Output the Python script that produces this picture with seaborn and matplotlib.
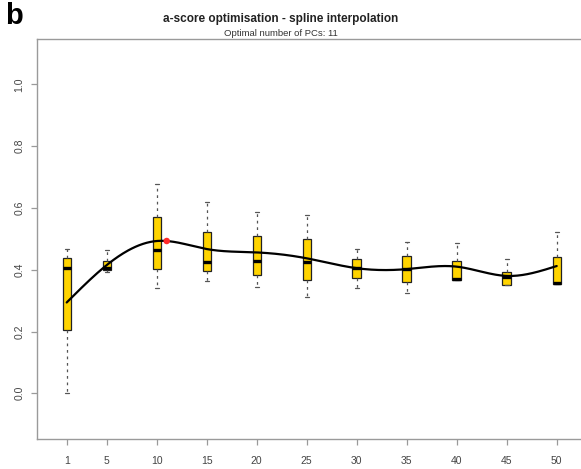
import numpy as np
import pandas as pd
import matplotlib
matplotlib.use("Agg")
import matplotlib.pyplot as plt
import seaborn as sns

# Number of principal components evaluated
pcs = [1, 5, 10, 15, 20, 25, 30, 35, 40, 45, 50]

# Five-number summaries of the a-score at each number of PCs
whisker_low = [0.000, 0.394, 0.342, 0.363, 0.345, 0.313, 0.340, 0.324, 0.366, 0.350, 0.353]
q1          = [0.205, 0.398, 0.402, 0.396, 0.383, 0.367, 0.372, 0.361, 0.367, 0.352, 0.354]
median      = [0.406, 0.405, 0.464, 0.426, 0.428, 0.424, 0.407, 0.402, 0.370, 0.376, 0.356]
q3          = [0.439, 0.429, 0.571, 0.521, 0.509, 0.498, 0.435, 0.444, 0.428, 0.394, 0.440]
whisker_high = [0.468, 0.464, 0.677, 0.620, 0.588, 0.577, 0.467, 0.491, 0.485, 0.434, 0.523]

# Spline knots (mean a-score at each number of PCs)
knot_score = [0.294, 0.415, 0.493, 0.467, 0.456, 0.437, 0.405, 0.402, 0.410, 0.380, 0.412]

optimal_pcs = 11

title = "a-score optimisation - spline interpolation"
subtitle = f"Optimal number of PCs: {optimal_pcs}"
panel_letter = "b"


def natural_cubic_spline(xk, yk, xs):
    """Evaluate a natural cubic spline through (xk, yk) at xs."""
    xk = np.asarray(xk, float)
    yk = np.asarray(yk, float)
    n = len(xk)
    h = np.diff(xk)
    A = np.zeros((n, n))
    b = np.zeros(n)
    A[0, 0] = A[-1, -1] = 1.0
    for i in range(1, n - 1):
        A[i, i - 1] = h[i - 1]
        A[i, i] = 2 * (h[i - 1] + h[i])
        A[i, i + 1] = h[i]
        b[i] = 3 * ((yk[i + 1] - yk[i]) / h[i] - (yk[i] - yk[i - 1]) / h[i - 1])
    c = np.linalg.solve(A, b)
    bcoef = (np.diff(yk) / h) - h * (2 * c[:-1] + c[1:]) / 3
    d = np.diff(c) / (3 * h)
    xs = np.asarray(xs, float)
    idx = np.clip(np.searchsorted(xk, xs) - 1, 0, n - 2)
    dx = xs - xk[idx]
    return yk[idx] + bcoef[idx] * dx + c[idx] * dx ** 2 + d[idx] * dx ** 3


# Long-form table: one row per summary value, so the box statistics reproduce them
rows = []
for i, p in enumerate(pcs):
    for v in (whisker_low[i], q1[i], median[i], q3[i], whisker_high[i]):
        rows.append({"pcs": p, "score": v})
df = pd.DataFrame(rows)

sns.set_style("white")
plt.rcParams["font.family"] = ["Liberation Sans", "DejaVu Sans"]

fig = plt.figure(figsize=(5.81, 4.69), dpi=100)
ax = fig.add_axes([36.7 / 581, 30 / 469, 560 / 581, 400 / 469])

frame_col = "#9a9a9a"
text_col = "#444444"

sns.boxplot(
    data=df, x="pcs", y="score", native_scale=True, ax=ax,
    whis=np.inf, width=0.21, saturation=1, color="#FFD400",
    linewidth=0.9, linecolor="black",
    boxprops=dict(facecolor="#FFD400", edgecolor="#222222"),
    medianprops=dict(color="black", linewidth=2.4),
    whiskerprops=dict(color="#555555", linestyle=(0, (2.2, 3.0)), linewidth=0.9),
    capprops=dict(color="#555555", linewidth=0.9),
)

xs = np.linspace(pcs[0], pcs[-1], 400)
ax.plot(xs, natural_cubic_spline(pcs, knot_score, xs), color="black", lw=1.6, zorder=5)
ax.scatter([optimal_pcs], natural_cubic_spline(pcs, knot_score, [optimal_pcs]),
           s=22, color="#ff2a2a", edgecolor="none", zorder=6)

ax.set_xlim(-2, 54)
ax.set_ylim(-0.148, 1.147)
ax.set_xticks(pcs)
ax.set_xticklabels([str(p) for p in pcs])
ax.set_yticks([0.0, 0.2, 0.4, 0.6, 0.8, 1.0])
ax.set_yticklabels(["0.0", "0.2", "0.4", "0.6", "0.8", "1.0"])
ax.set_xlabel("")
ax.set_ylabel("")

for s in ax.spines.values():
    s.set_color(frame_col)
    s.set_linewidth(1.0)

ax.tick_params(axis="x", direction="out", length=4.5, width=0.9, color=frame_col,
               labelsize=7.5, labelcolor=text_col, pad=8, bottom=True)
ax.tick_params(axis="y", direction="out", length=4.5, width=0.9, color=frame_col,
               labelsize=7.5, labelcolor=text_col, pad=4.5, left=True, labelrotation=90)
for lab in ax.get_yticklabels():
    lab.set_va("center")

fig.text(281 / 581, 1 - 19 / 469, title, ha="center", va="center",
         fontsize=8.5, fontweight="bold", color="#222222")
fig.text(281 / 581, 1 - 33.5 / 469, subtitle, ha="center", va="center",
         fontsize=6.8, color="#333333")
fig.text(5 / 581, 1 - 2 / 469, panel_letter, ha="left", va="top",
         fontsize=21, fontweight="bold", color="black")

fig.savefig("out.png", dpi=100)
